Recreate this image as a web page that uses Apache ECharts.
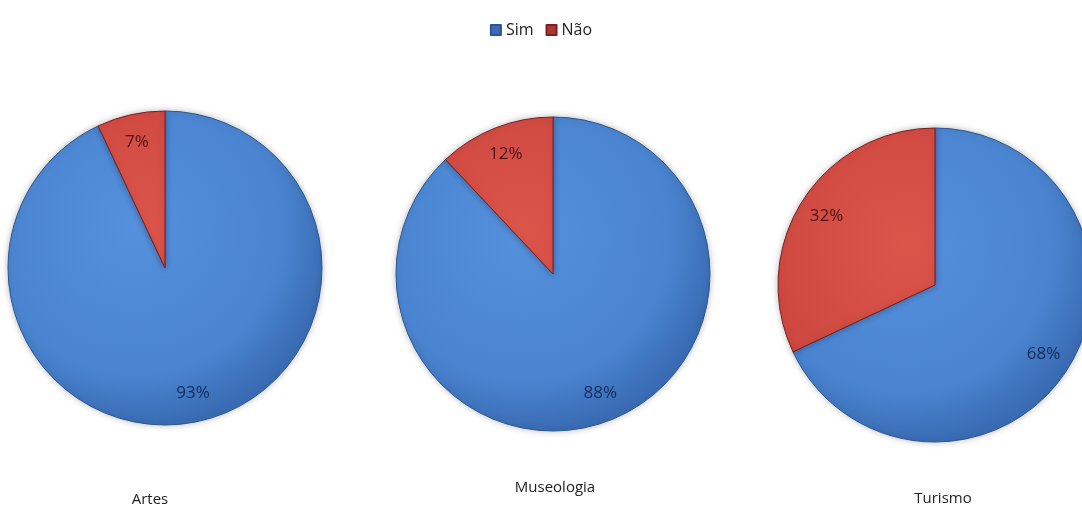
<!DOCTYPE html>
<html>
<head>
<meta charset="utf-8">
<style>
  html, body { margin: 0; padding: 0; background: #ffffff; }
  #chart { width: 1082px; height: 507px; }
</style>
<script src="https://cdn.jsdelivr.net/npm/echarts@6/dist/echarts.min.js"></script>
</head>
<body>
<div id="chart"></div>
<script>
// Response shares per course
const answers = ['Sim', 'Não'];
const courses = ['Artes', 'Museologia', 'Turismo'];
const simValues = [93, 88, 68];
const naoValues = [7, 12, 32];

// Layout of each pie (pixels)
const centers = [[165, 268], [553, 274], [935, 285]];
const titlePos = [[145, 487], [550, 475], [938, 486]];
const R = 157;

const blueFill = (cx, cy) => ({
  type: 'radial', x: cx - 30, y: cy - 40, r: R * 1.25, global: true,
  colorStops: [
    { offset: 0, color: '#5590dc' },
    { offset: 0.75, color: '#4a84d0' },
    { offset: 1, color: '#3a6db5' }
  ]
});
const redFill = (cx, cy) => ({
  type: 'radial', x: cx - 30, y: cy - 40, r: R * 1.25, global: true,
  colorStops: [
    { offset: 0, color: '#dc554b' },
    { offset: 0.75, color: '#cf4840' },
    { offset: 1, color: '#ad3832' }
  ]
});

const series = [];
courses.forEach((name, i) => {
  const [cx, cy] = centers[i];
  const data = [
    { name: answers[0], value: simValues[i],
      itemStyle: { color: blueFill(cx, cy), borderColor: '#2c5590' },
      label: { color: '#172a5c' } },
    { name: answers[1], value: naoValues[i],
      itemStyle: { color: redFill(cx, cy), borderColor: '#7a2020' },
      label: { color: '#4a1212' } }
  ];
  // filled pie
  series.push({
    type: 'pie', name: name, center: [cx, cy], radius: [0, R],
    startAngle: 90, clockwise: true, silent: true,
    itemStyle: { borderWidth: 1, shadowBlur: 6, shadowColor: 'rgba(0,0,0,0.25)' },
    label: { show: false }, labelLine: { show: false },
    data: data
  });
  // percentage labels placed toward the rim
  series.push({
    type: 'pie', name: name + ' %', center: [cx, cy], radius: [94, R],
    startAngle: 90, clockwise: true, silent: true,
    itemStyle: { color: 'rgba(0,0,0,0)', borderWidth: 0 },
    label: {
      show: true, position: 'inside', formatter: '{c}%',
      fontFamily: 'Open Sans', fontSize: 17
    },
    labelLine: { show: false },
    data: data.map(d => ({ name: d.name, value: d.value, label: d.label }))
  });
});

const chart = echarts.init(document.getElementById('chart'));
chart.setOption({
  animation: false,
  backgroundColor: '#ffffff',
  color: ['#4a84d0', '#c94040'],
  legend: {
    data: answers, top: 17, left: 'center',
    itemWidth: 10, itemHeight: 10, itemGap: 12, icon: 'rect',
    textStyle: { fontFamily: 'Open Sans', fontSize: 16, color: '#222' }
  },
  title: courses.map((c, i) => ({
    text: c, left: titlePos[i][0], top: titlePos[i][1],
    textAlign: 'center',
    textStyle: { fontFamily: 'Open Sans', fontSize: 15, fontWeight: 'normal', color: '#222' }
  })),
  series: series
});
</script>
</body>
</html>
